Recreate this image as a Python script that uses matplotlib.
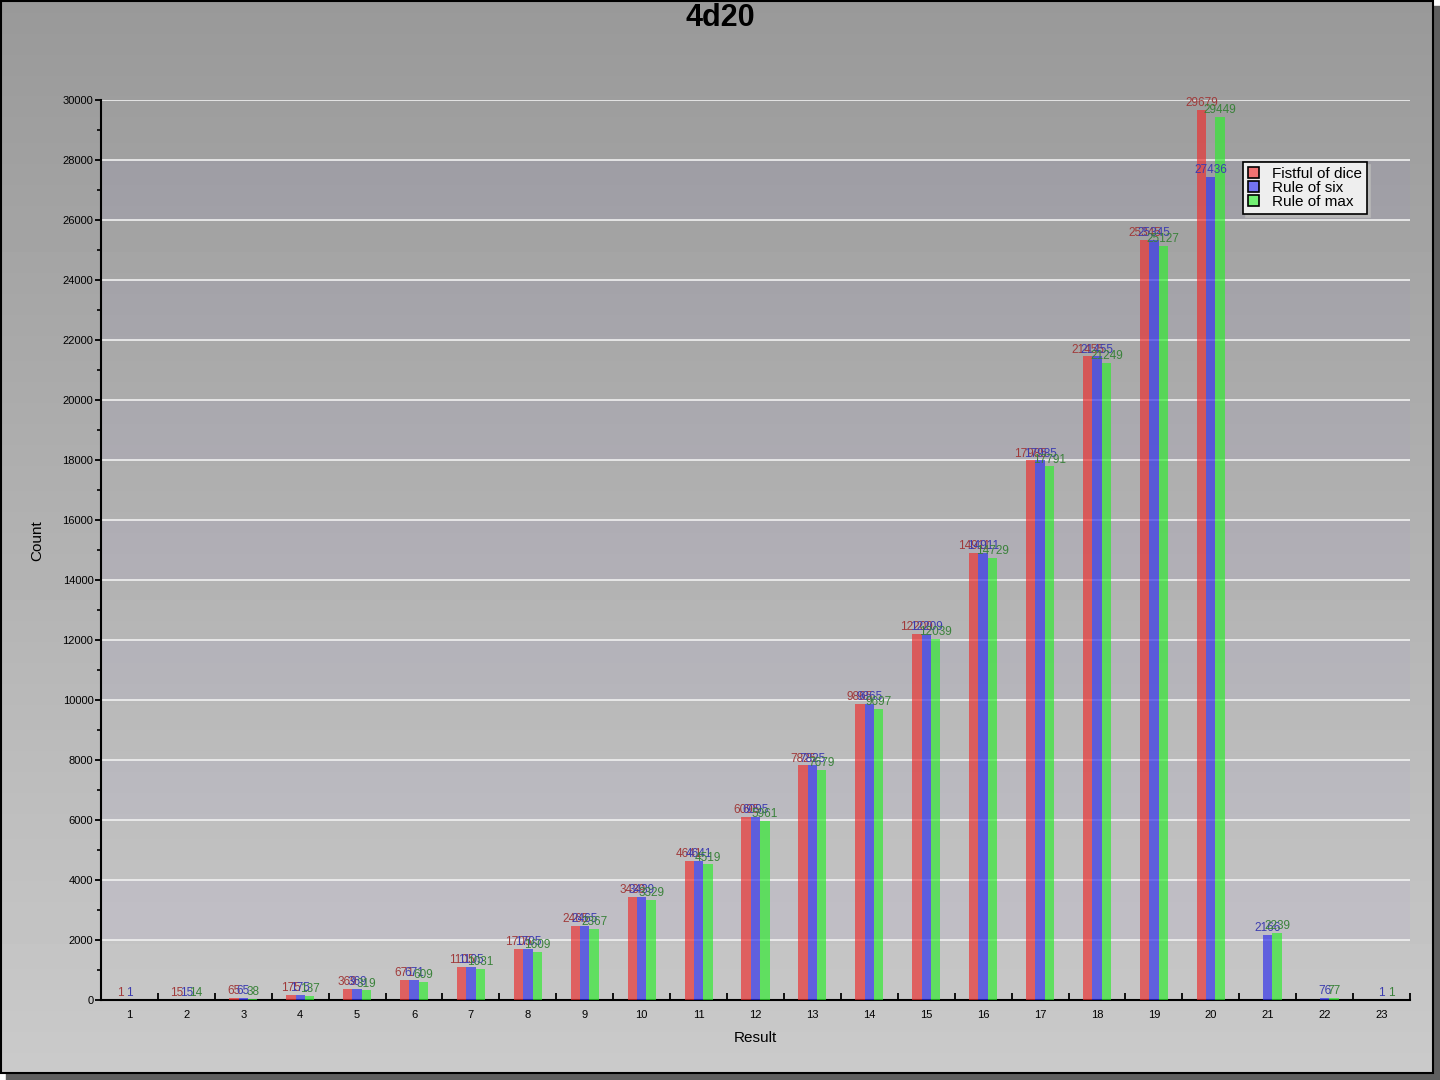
import numpy as np
import matplotlib
matplotlib.use("Agg")
import matplotlib.pyplot as plt
from matplotlib.patches import Patch, Rectangle
from matplotlib.ticker import MultipleLocator, FixedLocator

plt.rcParams['font.family'] = ['Liberation Sans', 'DejaVu Sans']

# data
results = list(range(1, 24))
fistful = [1, 15, 65, 175, 369, 671, 1105, 1705, 2465, 3439, 4641, 6095, 7825,
           9865, 12209, 14911, 17985, 21455, 25345, 29679, 0, 0, 0]
rule_six = [1, 15, 65, 175, 369, 671, 1105, 1705, 2465, 3439, 4641, 6095, 7825,
            9865, 12209, 14911, 17985, 21455, 25345, 27436, 2166, 76, 1]
rule_max = [0, 14, 38, 137, 319, 609, 1031, 1609, 2367, 3329, 4519, 5961, 7679,
            9697, 12039, 14729, 17791, 21249, 25127, 29449, 2239, 77, 1]

# name, values, bar colour, label colour, legend swatch colour
series = [
    ("Fistful of dice", fistful, (0.92, 0.19, 0.19), "#a03a3a", "#f07272"),
    ("Rule of six", rule_six, (0.19, 0.19, 0.92), "#3c3cb0", "#7272f0"),
    ("Rule of max", rule_max, (0.19, 0.92, 0.19), "#3a823a", "#72f072"),
]

W, H = 1440, 1080
fig = plt.figure(figsize=(W / 100, H / 100), dpi=100)
fig.patch.set_facecolor("white")

# panel background: drop shadow, vertical gradient, black frame
bg = fig.add_axes([0, 0, 1, 1], zorder=-10)
bg.axis("off")
bg.add_patch(Rectangle((6, 6), W - 6, H - 6, color="#5f5f5f", zorder=1))
grad = np.linspace(153, 202, 256).reshape(-1, 1)
bg.imshow(grad, cmap="gray", vmin=0, vmax=255, aspect="auto",
          extent=(0, W - 6, H - 6, 0), zorder=2)
bg.add_patch(Rectangle((1, 1), W - 8, H - 8, fill=False, ec="black", lw=1.5,
                       zorder=3))
bg.set_xlim(0, W)
bg.set_ylim(H, 0)

ax = fig.add_axes([101 / W, 1 - 1000 / H, 1309 / W, 900 / H])
ax.set_facecolor("none")

x = np.array(results)
w = 0.165
for i, (name, vals, col, lcol, _) in enumerate(series):
    bars = ax.bar(x + (i - 1) * w, vals, width=w, color=col, alpha=0.68,
                  linewidth=0, zorder=3)
    labels = [str(v) if v > 0 else "" for v in vals]
    ax.bar_label(bars, labels=labels, padding=0.5, fontsize=8.5, color=lcol,
                 zorder=4)

# alternating bands and white grid lines
for y0 in range(2000, 30000, 4000):
    ax.axhspan(y0, y0 + 2000, color=(0.55, 0.45, 0.95), alpha=0.05, lw=0, zorder=1)
for gy in range(2000, 30001, 2000):
    ax.axhline(gy, color="#f0f0f0", lw=1.2, zorder=2)

ax.set_xlim(0.5, 23.5)
ax.set_ylim(0, 30000)
for s in ("top", "right"):
    ax.spines[s].set_visible(False)
ax.spines["left"].set_linewidth(1.5)
ax.spines["bottom"].set_linewidth(1.5)

ax.yaxis.set_major_locator(MultipleLocator(2000))
ax.yaxis.set_minor_locator(MultipleLocator(1000))
ax.tick_params(axis="y", which="major", direction="out", length=4, width=1.3,
               pad=1.5, labelsize=8)
ax.tick_params(axis="y", which="minor", direction="out", length=3, width=1.2)

ax.xaxis.set_major_locator(FixedLocator(np.arange(1.5, 24, 1.0)))
ax.xaxis.set_minor_locator(FixedLocator(x))
ax.xaxis.set_major_formatter(plt.NullFormatter())
ax.xaxis.set_minor_formatter(plt.FixedFormatter([str(r) for r in results]))
ax.tick_params(axis="x", which="major", direction="in", length=5, width=1.3)
ax.tick_params(axis="x", which="minor", length=0, pad=7, labelsize=8)

ax.set_xlabel("Result", fontsize=11)
ax.set_ylabel("Count", fontsize=11)
ax.xaxis.set_label_coords(0.5, -0.035)
ax.yaxis.set_label_coords(-0.043, 0.51)

fig.text(0.5, 1 - 18 / H, "4d20", ha="center", va="center",
         fontsize=22, fontweight="bold")

handles = [Patch(facecolor=lc, edgecolor="black", linewidth=1.2, label=n)
           for n, _, _, _, lc in series]
leg = ax.legend(handles=handles, loc="upper right",
                bbox_to_anchor=((1367 - 101) / 1309, (1000 - 162) / 900),
                borderaxespad=0, fontsize=11, fancybox=False,
                shadow={"color": "#b8b8b8", "alpha": 1},
                framealpha=1, facecolor="#eeeeee", edgecolor="black",
                labelspacing=0.02, borderpad=0.3, handlelength=0.75,
                handleheight=0.75, handletextpad=0.85)
leg.get_frame().set_linewidth(1.2)
leg.set_zorder(10)

fig.savefig("out.png", dpi=100)
